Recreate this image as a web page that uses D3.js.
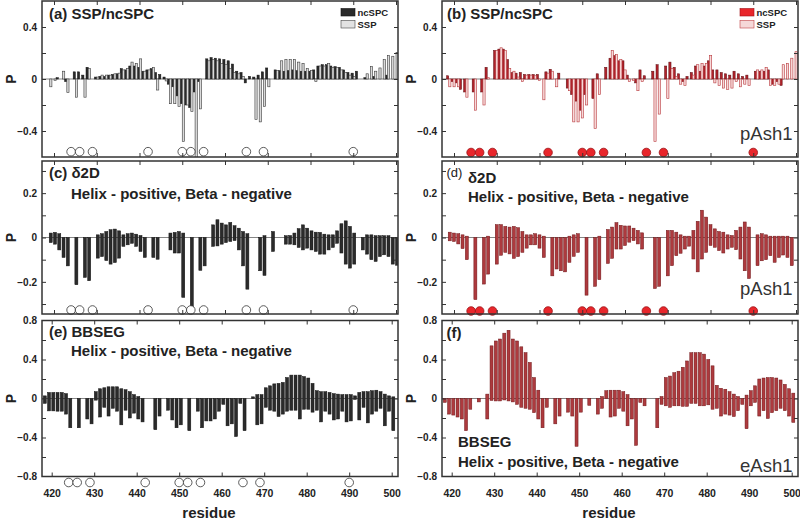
<!DOCTYPE html>
<html><head><meta charset="utf-8">
<script src="https://cdn.jsdelivr.net/npm/d3@7"></script>
<style>body{margin:0;background:#fff} svg{display:block} text{font-family:"Liberation Sans",Arial,Helvetica,sans-serif}</style>
</head><body>
<svg id="c" width="800" height="520"></svg>
<script>
// residues 418..500
const residues = [418,419,420,421,422,423,424,425,426,427,
428,429,430,431,432,433,434,435,436,437,
438,439,440,441,442,443,444,445,446,447,
448,449,450,451,452,453,454,455,456,457,
458,459,460,461,462,463,464,465,466,467,
468,469,470,471,472,473,474,475,476,477,
478,479,480,481,482,483,484,485,486,487,
488,489,490,491,492,493,494,495,496,497,
498,499,500];
const markedResidues = [424,426,429,442,450,452,455,465,469,490];
const xTickValues = [420,430,440,450,460,470,480,490,500];

// (a) SSP/ncSPC, eAsh1-like gray
const aNc = [null,0,0,0.01,0,-0.02,0,0.055,0.055,0.03,
0.09,0,0.015,0.02,0.02,0.03,0.035,0.04,0.08,0.07,
0.10,0.10,0.09,0.06,0.07,0.08,0.05,0.035,0.015,-0.04,
-0.06,-0.13,-0.19,-0.2,-0.22,-0.1,-0.02,0,0.155,0.165,
0.16,0.155,0.15,0.14,0.115,0.06,0.05,-0.03,0.02,0.015,
0.03,0.055,0.085,0,0.07,0.065,0.06,0.065,0.07,0.065,
0.06,0.06,0.06,0.07,0.10,0.11,0.11,0.10,0.095,0.09,
0.07,0.05,0.045,0.06,0,0.01,0,0.02,0,0,
0.03,0,0];
const aSsp = [null,-0.06,-0.01,0,0.06,-0.105,0,-0.14,0,-0.14,
0.08,0,0.015,0.03,0.03,0.03,0.04,0.045,0.07,0.08,
0.13,0.12,0.155,0.06,0.07,0.09,-0.085,0,-0.015,-0.19,
-0.19,-0.21,-0.48,-0.2,-0.25,-0.62,-0.23,0,0.14,0.15,
0.14,0.12,0.11,0.08,0.05,0.04,0.02,0,0,-0.31,
-0.33,-0.21,-0.06,0,0.065,0.14,0.15,0.15,0.15,0.13,
0.12,0.08,0.065,-0.02,0.10,0.10,0.12,0.09,0.09,0.07,
0.05,0.03,0.02,0,0,0.04,0.095,0.06,0.085,0.15,
0.18,0.175,0.205];
// (b) SSP/ncSPC pAsh1
const bNc = [null,0.025,-0.02,-0.03,-0.08,-0.1,0,-0.1,0,-0.1,
0.09,0,0.22,0.23,0.23,0.15,0.05,0.045,0.05,0.035,
0.035,0.035,0.035,0,0.055,0.075,0,0.045,0,-0.07,
-0.12,-0.17,-0.24,-0.12,0,-0.15,0.04,0,0.09,0.16,
0.18,0.14,0.14,0.03,0,-0.03,0.07,0.025,0,0.06,
0.11,0,0.1,0.13,0.09,0.04,-0.02,0.02,0.05,0.1,
0.06,0.1,0.14,0.07,0.07,0.05,0.04,0.03,0.06,0.04,
0.02,0.03,0,0.06,0.06,0.06,0.07,-0.04,-0.02,-0.05,
0,0,0];
const bSsp = [null,-0.06,-0.06,-0.06,0,-0.14,0,-0.24,0,-0.2,
0.01,0,0.22,0.24,0.22,0.08,0.06,0.015,-0.02,0.03,
0.03,0.025,-0.01,-0.16,0.045,0.06,-0.06,0,0,-0.09,
-0.33,-0.33,-0.3,-0.2,0,-0.38,-0.12,0,0,0.22,
0.19,0.15,0.07,-0.02,-0.01,-0.09,-0.02,0,0,-0.48,
-0.27,0,-0.15,0.08,0.02,-0.04,-0.05,0,0.03,0.11,
0.12,0.12,0.18,-0.03,-0.05,-0.07,-0.08,-0.07,-0.02,-0.06,
-0.04,-0.05,0,0.07,0.07,0.09,-0.05,-0.05,-0.04,0.11,
0.12,0.16,0.21];
// (c) delta2D
const cHelix = [null,0.02,0.023,0.017,0,0,null,0,null,0,
0,null,0.012,0.017,0.027,0.035,0.038,0.03,0.012,0.017,
0.02,0.015,0.009,0,null,0,0,null,null,0.02,
0.023,0.027,0.02,null,0,null,0,0,null,0.057,
0.08,0.065,0.057,0.068,0.053,0.042,0.027,0.017,null,null,
0,0.008,null,0.027,null,null,0.008,0.009,0.02,0.04,
0.057,0.042,0.03,0.024,0.023,0.015,0.012,0.012,0.03,0.062,
0.075,0.05,0.02,null,0,0.012,0.012,0.008,0.008,0.008,
0.008,0,0];
const cBeta = [null,-0.023,-0.03,-0.056,-0.09,-0.128,null,-0.213,null,-0.18,
-0.195,null,-0.093,-0.086,-0.104,-0.12,-0.113,-0.093,-0.04,-0.033,
-0.026,-0.04,-0.063,-0.09,null,-0.09,-0.098,null,null,-0.056,
-0.07,-0.07,-0.27,null,-0.34,null,-0.148,-0.128,null,-0.04,
-0.038,-0.03,-0.023,-0.018,-0.014,-0.056,-0.128,-0.233,null,null,
-0.15,-0.171,null,-0.063,null,null,-0.03,-0.03,-0.033,-0.045,
-0.056,-0.048,-0.056,-0.063,-0.075,-0.075,-0.056,-0.045,-0.026,-0.07,
-0.12,-0.138,-0.12,null,-0.056,-0.075,-0.1,-0.108,-0.086,-0.078,
-0.086,-0.12,-0.125];
// (d) delta2D pAsh1
const dHelix = [null,0.024,0.02,0.017,0.012,0.006,null,0,null,0,
0.006,null,0.058,0.058,0.05,0.047,0.05,0.044,0.027,0.012,
0.012,0.017,0.012,0.006,null,0,0,0,0,0.006,
0.012,0.017,null,0,null,0,0.006,null,0.036,0.047,
0.067,0.055,0.052,0.052,0.042,0.032,0.021,null,null,0,
0,null,0.032,0.032,0.024,0.012,0.006,0.006,0.032,0.073,
0.123,0.092,0.058,0.039,0.027,0.024,0.012,0.009,0.032,0.047,
0.07,0.047,null,0.012,0.017,0.012,0.006,0.006,0.006,0.006,
0.006,0,null];
const dBeta = [null,-0.015,-0.018,-0.029,-0.05,-0.1,null,-0.28,null,-0.21,
-0.165,null,-0.12,-0.08,-0.067,-0.074,-0.094,-0.086,-0.067,-0.048,
-0.033,-0.033,-0.048,-0.09,null,-0.173,-0.142,-0.15,-0.155,-0.112,
-0.085,-0.067,null,-0.26,null,-0.22,-0.19,null,-0.117,-0.094,
-0.052,-0.052,-0.036,-0.021,-0.014,-0.029,-0.052,null,null,-0.23,
-0.22,null,-0.173,-0.127,-0.082,-0.071,-0.052,-0.039,-0.097,-0.155,
-0.097,-0.067,-0.036,-0.044,-0.059,-0.07,-0.052,-0.044,-0.055,-0.097,
-0.15,-0.185,null,-0.127,-0.105,-0.1,-0.082,-0.112,-0.09,-0.079,
-0.09,-0.127,null];
// (e) BBSEG
const eHelix = [0.027,0.062,0.062,0.062,0.062,0.05,0,null,0,null,
0,0,0.07,0.1,0.11,0.12,0.12,0.12,0.1,0.09,
0.07,0.04,0.02,0,null,null,0,0,null,0,
0,0,0,null,0,null,0,0,0,0,
0,0,0,0,0,0,0,0,null,0.017,
0.04,0.04,0.11,0.13,0.15,0.155,0.165,0.215,0.24,0.24,
0.24,0.225,0.21,0.155,0.08,0.07,0.07,0.062,0.05,0.045,
0.04,0.04,0.04,0.027,0.062,0.07,0.07,0.08,0.085,0.07,
0.045,0.027,0.017];
const eBeta = [-0.05,-0.127,-0.127,-0.13,-0.13,-0.16,-0.3,null,-0.3,null,
-0.21,-0.26,-0.017,-0.19,-0.09,-0.18,-0.1,-0.13,-0.27,-0.12,
-0.2,-0.15,-0.21,-0.24,null,null,-0.32,-0.18,null,-0.12,
-0.22,-0.3,-0.27,null,-0.33,null,-0.13,-0.3,-0.23,-0.23,
-0.21,-0.13,-0.06,-0.28,-0.26,-0.39,-0.05,-0.33,null,0,
-0.27,-0.26,-0.09,-0.12,-0.13,-0.185,-0.16,-0.13,-0.12,-0.12,
-0.21,-0.11,-0.11,-0.14,-0.12,-0.24,-0.13,-0.16,-0.22,-0.21,
-0.13,-0.24,-0.23,-0.01,-0.22,-0.09,-0.25,-0.16,-0.13,-0.1,
-0.28,-0.13,-0.33];
// (f) BBSEG eAsh1
const fHelix = [0,0,0,0,0,0,0,null,0,null,
0.045,0.54,0.59,0.61,0.67,0.7,0.61,0.59,0.53,0.47,
0.37,0.215,0.085,0,0,null,0,0,null,0,
0,0,0,null,0,null,0,0.02,0.08,0.085,
0.085,0.085,0.07,0.04,0,0,0,0,null,null,
0,0.02,0.215,0.23,0.265,0.28,0.32,0.385,0.47,0.47,
0.47,0.455,0.4,0.335,0.135,0.105,0.095,0.07,0.045,0.02,
0,0.035,0.08,0.13,0.2,0.21,0.215,0.215,0.21,0.19,
0.145,0.1,0.055];
const fBeta = [-0.04,-0.16,-0.17,-0.19,-0.21,-0.33,-0.11,null,-0.035,null,
-0.21,-0.02,-0.025,-0.025,-0.015,-0.025,-0.035,-0.06,-0.09,-0.1,
-0.11,-0.145,-0.21,-0.3,-0.09,null,-0.26,-0.18,null,-0.14,
-0.18,-0.49,-0.14,null,-0.07,null,-0.16,-0.1,0,-0.19,
-0.18,-0.1,-0.13,-0.28,-0.21,-0.48,-0.04,-0.075,null,null,
-0.3,-0.06,-0.075,-0.09,-0.075,-0.075,-0.08,-0.08,-0.05,-0.05,
-0.075,-0.075,-0.065,-0.11,-0.1,-0.18,-0.16,-0.17,-0.185,-0.125,
-0.06,-0.31,-0.075,-0.04,-0.18,-0.125,-0.205,-0.145,-0.125,-0.1,
-0.125,-0.18,-0.245];

const svg = d3.select('#c');
const font = '"Liberation Sans",Arial,Helvetica,sans-serif';
const fmt = v => v === 0 ? '0' : d3.format('.1f')(v);

const panels = [
 {ox:0, top:1, bottom:157, dom:[-0.6,0.6], ticks:[-0.4,-0.2,0,0.2,0.4], labels:[-0.4,0,0.4], xr:[54,396], type:'pair', s1:aNc, s2:aSsp, red:false, circY:151.7, shift:0},
 {ox:400, top:1, bottom:157, dom:[-0.6,0.6], ticks:[-0.4,-0.2,0,0.2,0.4], labels:[-0.4,0,0.4], xr:[54,396], type:'pair', s1:bNc, s2:bSsp, red:true, circY:152.5, shift:-1},
 {ox:0, top:161, bottom:314, dom:[-0.345,0.345], ticks:[-0.3,-0.2,-0.1,0,0.1,0.2,0.3], labels:[-0.2,0,0.2], xr:[54,396], type:'float', s1:cHelix, s2:cBeta, red:false, circY:310, shift:1},
 {ox:400, top:161, bottom:314, dom:[-0.345,0.345], ticks:[-0.3,-0.2,-0.1,0,0.1,0.2,0.3], labels:[-0.2,0,0.2], xr:[54,396], type:'float', s1:dHelix, s2:dBeta, red:true, circY:311, shift:0},
 {ox:0, top:320.5, bottom:476.5, dom:[-0.8,0.8], ticks:[-0.6,-0.4,-0.2,0,0.2,0.4,0.6], labels:[-0.8,-0.4,0,0.4,0.8], xr:[51.7,391.7], type:'float', s1:eHelix, s2:eBeta, red:false, circY:482.5, shift:1.6, xlab:true},
 {ox:400, top:320.5, bottom:476.5, dom:[-0.8,0.8], ticks:[-0.6,-0.4,-0.2,0,0.2,0.4,0.6], labels:[-0.8,-0.4,0,0.4,0.8], xr:[51.7,391.7], type:'float', s1:fHelix, s2:fBeta, red:true, circY:null, shift:1.6, xlab:true}
];

panels.forEach((p, pi) => {
  const g = svg.append('g').attr('transform', `translate(${p.ox},0)`);
  const x = d3.scaleLinear().domain([420,500]).range(p.xr);
  const y = d3.scaleLinear().domain(p.dom).range([p.bottom, p.top]);
  const L = 42, R = 398;
  const cid = 'clip' + pi;
  g.append('clipPath').attr('id', cid).append('rect')
    .attr('x', L).attr('y', p.top).attr('width', R - L).attr('height', p.bottom - p.top);
  const plot = g.append('g').attr('clip-path', `url(#${cid})`);

  // zero line
  plot.append('line').attr('x1', L).attr('x2', R).attr('y1', y(0)).attr('y2', y(0))
    .attr('stroke', '#777').attr('stroke-width', 0.9);

  const rows = residues.map((r, i) => ({r, a: p.s1[i], b: p.s2[i]}));
  if (p.type === 'pair') {
    const w = 2.2;
    const ncFill = p.red ? '#b0222a' : '#2a2a2a';
    const ncStroke = p.red ? '#5c0c10' : '#111';
    const sFill = p.red ? '#f7dada' : '#dadada';
    const sStroke = p.red ? '#b8383c' : '#3a3a3a';
    plot.selectAll('rect.nc').data(rows.filter(d => d.a != null && d.a !== 0)).join('rect')
      .attr('class', 'nc')
      .attr('x', d => x(d.r) - w + p.shift).attr('width', w)
      .attr('y', d => y(Math.max(0, d.a))).attr('height', d => Math.abs(y(d.a) - y(0)))
      .attr('fill', ncFill).attr('stroke', ncStroke).attr('stroke-width', 0.5);
    plot.selectAll('rect.ssp').data(rows.filter(d => d.b != null && d.b !== 0)).join('rect')
      .attr('class', 'ssp')
      .attr('x', d => x(d.r) + p.shift).attr('width', w)
      .attr('y', d => y(Math.max(0, d.b))).attr('height', d => Math.abs(y(d.b) - y(0)))
      .attr('fill', sFill).attr('stroke', sStroke).attr('stroke-width', 0.6);
  } else {
    const w = 3.0;
    const fill = p.red ? '#ad3a3e' : '#2b2b2b';
    const stroke = p.red ? '#6e1417' : '#111';
    plot.selectAll('rect.fb').data(rows.filter(d => d.a != null && d.b != null && (d.a - d.b) > 0)).join('rect')
      .attr('class', 'fb')
      .attr('x', d => x(d.r) - w / 2 + p.shift).attr('width', w)
      .attr('y', d => y(d.a)).attr('height', d => y(d.b) - y(d.a))
      .attr('fill', fill).attr('stroke', stroke).attr('stroke-width', 0.5);
  }

  // circles marking residues
  if (p.circY != null) {
    g.selectAll('circle.m').data(markedResidues).join('circle')
      .attr('class', 'm')
      .attr('cx', d => x(d)).attr('cy', p.circY).attr('r', 4.3)
      .attr('fill', p.red ? '#e8262b' : '#fff')
      .attr('stroke', p.red ? '#9a1014' : '#333').attr('stroke-width', 0.8);
  }

  // ticks (inward)
  const tickStyle = sel => { sel.select('.domain').remove(); sel.selectAll('line').attr('stroke', '#333').attr('stroke-width', 1); };
  g.append('g').attr('transform', `translate(${L},0)`)
    .call(d3.axisLeft(y).tickValues(p.ticks).tickSize(-4).tickFormat('')).call(tickStyle);
  g.append('g').attr('transform', `translate(${R},0)`)
    .call(d3.axisRight(y).tickValues(p.ticks).tickSize(-4).tickFormat('')).call(tickStyle);
  g.append('g').attr('transform', `translate(0,${p.top})`)
    .call(d3.axisTop(x).tickValues(xTickValues).tickSize(-4).tickFormat('')).call(tickStyle);
  g.append('g').attr('transform', `translate(0,${p.bottom})`)
    .call(d3.axisBottom(x).tickValues(xTickValues).tickSize(-4).tickFormat('')).call(tickStyle);

  // y labels
  const yl = g.append('g').attr('transform', `translate(${L},0)`)
    .call(d3.axisLeft(y).tickValues(p.labels).tickSize(0).tickPadding(5).tickFormat(fmt));
  yl.select('.domain').remove();
  yl.selectAll('text').attr('font-family', font).attr('font-size', 10).attr('font-weight', 'bold').attr('fill', '#222');

  if (p.xlab) {
    const xl = g.append('g').attr('transform', `translate(0,${p.bottom})`)
      .call(d3.axisBottom(x).tickValues(xTickValues).tickSize(0).tickPadding(13).tickFormat(d3.format('d')));
    xl.select('.domain').remove();
    xl.selectAll('text').attr('font-family', font).attr('font-size', 10.5).attr('font-weight', 'bold').attr('fill', '#222');
  }

  // frame
  g.append('rect').attr('x', L).attr('y', p.top).attr('width', R - L).attr('height', p.bottom - p.top)
    .attr('fill', 'none').attr('stroke', '#333').attr('stroke-width', 1.5);

  // P label
  g.append('text').attr('transform', `translate(15.5,${y(0)}) rotate(-90)`)
    .attr('text-anchor', 'middle').attr('font-size', 14).attr('font-weight', 'bold').attr('fill', '#222').text('P');
});

const T = (x, y, s, size, weight, anchor) => svg.append('text').attr('x', x).attr('y', y)
  .attr('font-size', size).attr('font-weight', weight || 'bold').attr('fill', '#222')
  .attr('text-anchor', anchor || 'start').text(s);

T(49, 18.5, '(a) SSP/ncSPC', 15);
T(447, 18.5, '(b) SSP/ncSPC', 15);
T(49, 178, '(c) δ2D', 15);
T(71, 199, 'Helix - positive, Beta - negative', 15);
T(446.5, 177, '(d)', 13, 'normal');
T(468, 182.5, 'δ2D', 15);
T(468, 201.5, 'Helix - positive, Beta - negative', 15);
T(49, 337, '(e) BBSEG', 15);
T(71, 356, 'Helix - positive, Beta - negative', 15);
T(446.5, 338, '(f)', 15);
T(458, 447, 'BBSEG', 15);
T(458, 466.5, 'Helix - positive, Beta - negative', 15);
T(740, 139.5, 'pAsh1', 18.5, 'normal').attr('fill', '#333');
T(740, 295, 'pAsh1', 18.5, 'normal').attr('fill', '#333');
T(740, 471.5, 'eAsh1', 18.5, 'normal').attr('fill', '#333');
T(209, 518, 'residue', 15, 'bold', 'middle');
T(609, 518, 'residue', 15, 'bold', 'middle');

// legends
function legend(x0, c1, c1s, c2, c2s) {
  svg.append('rect').attr('x', x0).attr('y', 8.5).attr('width', 14).attr('height', 7.5).attr('fill', c1).attr('stroke', c1s).attr('stroke-width', 0.6);
  svg.append('rect').attr('x', x0).attr('y', 20.5).attr('width', 14).attr('height', 7.5).attr('fill', c2).attr('stroke', c2s).attr('stroke-width', 0.6);
  T(x0 + 16.5, 16, 'ncSPC', 9.5);
  T(x0 + 16.5, 28, 'SSP', 9.5);
}
legend(341, '#2a2a2a', '#111', '#e2e2e2', '#444');
legend(740, '#e8262b', '#a01014', '#f5d8d8', '#c04044');
</script>
</body></html>
